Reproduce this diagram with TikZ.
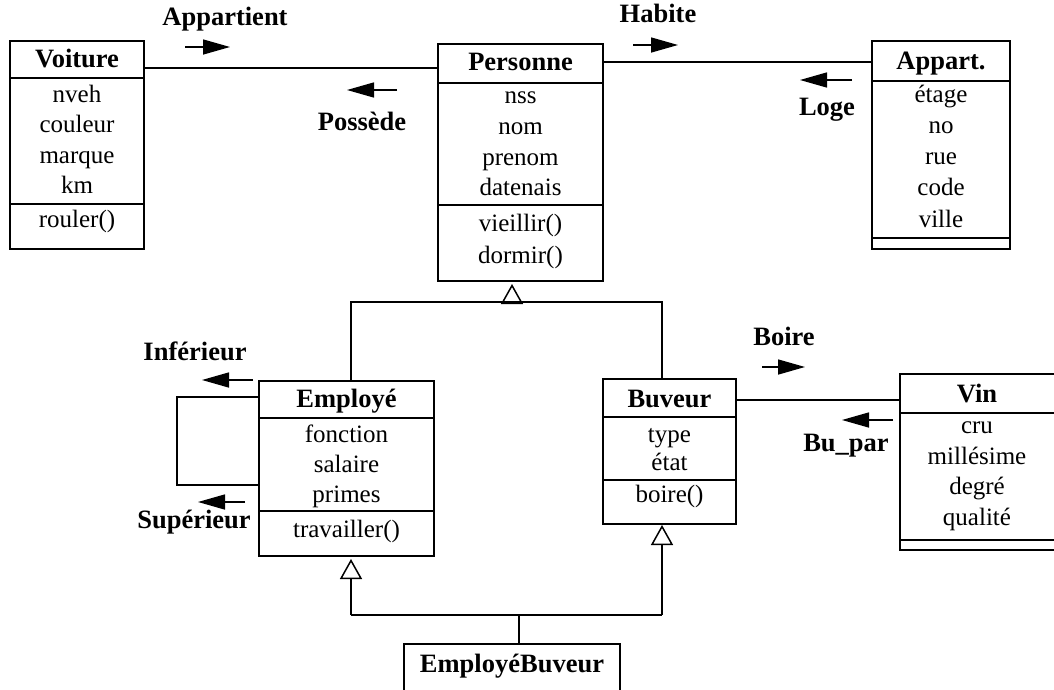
\documentclass[tikz,border=0pt]{standalone}
\usepackage{fontspec}
\setmainfont{Liberation Serif}
\usetikzlibrary{arrows.meta,calc}
\tikzset{
  cls/.style={draw, line width=2pt, inner sep=0pt, anchor=north west},
  sepl/.style={line width=1.5pt},
  ln/.style={line width=1.5pt},
  attr/.style={inner sep=0pt, font=\fontsize{25}{29}\selectfont, text height=16pt, text depth=5pt},
  hdr/.style={attr, font=\fontsize{26.5}{30}\selectfont\bfseries},
  lbl/.style={hdr},
  dirarr/.style={line width=1.5pt, -{Triangle[length=27pt,width=15pt]}},
  inh/.style={line width=1.5pt, -{Triangle[open,length=20pt,width=22pt,line width=1.5pt]}}
}
\newcommand\csep[2]{\draw[sepl] ([yshift=-#2pt]#1.north west) -- ([yshift=-#2pt]#1.north east);}
\begin{document}
\begin{tikzpicture}[x=1pt,y=-1pt]
\useasboundingbox (0,0) rectangle (1054,689);
\clip (0,0) rectangle (1054,689);

% class boxes
\node[cls, minimum width=134pt, minimum height=208pt] (voiture) at (9,40) {};
\node[cls, minimum width=165pt, minimum height=237pt] (personne) at (437,43) {};
\node[cls, minimum width=138pt, minimum height=208pt] (appart) at (871,40) {};
\node[cls, minimum width=175pt, minimum height=175pt] (employe) at (258,380) {};
\node[cls, minimum width=133pt, minimum height=145pt] (buveur) at (602,378) {};
\node[cls, minimum width=158pt, minimum height=176pt] (vin) at (899,373) {};
\node[cls, minimum width=216pt, minimum height=70pt] (eb) at (403,643) {};

% compartments
\csep{voiture}{38} \csep{voiture}{164}
\csep{personne}{40} \csep{personne}{162}
\csep{appart}{41} \csep{appart}{198}
\csep{employe}{38} \csep{employe}{131}
\csep{buveur}{39} \csep{buveur}{102}
\csep{vin}{40} \csep{vin}{167}

% Voiture texts
\node[hdr] (vt) at ($(voiture.north)+(0,22)$) {Voiture};
\node[attr] (v1) at ($(voiture.north)+(0,57)$) {nveh};
\node[attr] (v2) at ($(voiture.north)+(0,87)$) {couleur};
\node[attr] (v3) at ($(voiture.north)+(0,118)$) {marque};
\node[attr] (v4) at ($(voiture.north)+(0,148)$) {km};
\node[attr] (v5) at ($(voiture.north)+(0,182)$) {rouler()};

% Personne texts
\node[hdr] (pt) at ($(personne.north)+(0,22)$) {Personne};
\node[attr] (p1) at ($(personne.north)+(0,55)$) {nss};
\node[attr] (p2) at ($(personne.north)+(0,86)$) {nom};
\node[attr] (p3) at ($(personne.north)+(0,117)$) {prenom};
\node[attr] (p4) at ($(personne.north)+(0,147)$) {datenais};
\node[attr] (p5) at ($(personne.north)+(0,183)$) {vieillir()};
\node[attr] (p6) at ($(personne.north)+(0,215)$) {dormir()};

% Appart texts
\node[hdr] (at) at ($(appart.north)+(0,24)$) {Appart.};
\node[attr] (a1) at ($(appart.north)+(0,57)$) {étage};
\node[attr] (a2) at ($(appart.north)+(0,88)$) {no};
\node[attr] (a3) at ($(appart.north)+(0,119)$) {rue};
\node[attr] (a4) at ($(appart.north)+(0,150)$) {code};
\node[attr] (a5) at ($(appart.north)+(0,182)$) {ville};

% Employe texts
\node[hdr] (et) at ($(employe.north)+(0,22)$) {Employé};
\node[attr] (e1) at ($(employe.north)+(0,57)$) {fonction};
\node[attr] (e2) at ($(employe.north)+(0,87)$) {salaire};
\node[attr] (e3) at ($(employe.north)+(0,117)$) {primes};
\node[attr] (e4) at ($(employe.north)+(0,152)$) {travailler()};

% Buveur texts
\node[hdr] (bt) at ($(buveur.north)+(0,24)$) {Buveur};
\node[attr] (b1) at ($(buveur.north)+(0,59)$) {type};
\node[attr] (b2) at ($(buveur.north)+(0,87)$) {état};
\node[attr] (b3) at ($(buveur.north)+(0,119)$) {boire()};

% Vin texts
\node[hdr] (wt) at ($(vin.north)+(-2,24)$) {Vin};
\node[attr] (w1) at ($(vin.north)+(-2,55)$) {cru};
\node[attr] (w2) at ($(vin.north)+(-2,86)$) {millésime};
\node[attr] (w3) at ($(vin.north)+(-2,116)$) {degré};
\node[attr] (w4) at ($(vin.north)+(-2,147)$) {qualité};

% EmployeBuveur
\node[hdr] (ebt) at ($(eb.north)+(0,24)$) {EmployéBuveur};

% associations
\coordinate (y1) at (0,68);
\coordinate (y2) at (0,62);
\coordinate (y3) at (0,400);
\draw[ln] (voiture.east |- y1) -- (personne.west |- y1);
\draw[ln] (personne.east |- y2) -- (appart.west |- y2);
\draw[ln] (buveur.east |- y3) -- (vin.west |- y3);

% self association
\coordinate (sl) at (177,397);
\coordinate (sl2) at (177,485);
\draw[ln] (employe.west |- sl) -- (sl) -- (sl2) -- (employe.west |- sl2);

% labels
\node[lbl] (lapp) at (225,20) {Appartient};
\node[lbl] (lpos) at (362,125) {Possède};
\node[lbl] (lhab) at (658,17) {Habite};
\node[lbl] (llog) at (827,110) {Loge};
\node[lbl] (linf) at (195,355) {Inférieur};
\node[lbl] (lsup) at (194,523) {Supérieur};
\node[lbl] (lboi) at (784,340) {Boire};
\node[lbl] (lbu) at (846,446) {Bu\_par};

% direction arrows
\coordinate (d1a) at (185,47); \coordinate (d1b) at (230,47);
\coordinate (d2a) at (397,90); \coordinate (d2b) at (347,90);
\coordinate (d3a) at (633,45); \coordinate (d3b) at (678,45);
\coordinate (d4a) at (852,80); \coordinate (d4b) at (800,80);
\coordinate (d5a) at (253,380); \coordinate (d5b) at (202,380);
\coordinate (d6a) at (245,502); \coordinate (d6b) at (198,502);
\coordinate (d7a) at (762,367); \coordinate (d7b) at (805,367);
\coordinate (d8a) at (893,420); \coordinate (d8b) at (842,420);
\draw[dirarr] (d1a) -- (d1b);
\draw[dirarr] (d2a) -- (d2b);
\draw[dirarr] (d3a) -- (d3b);
\draw[dirarr] (d4a) -- (d4b);
\draw[dirarr] (d5a) -- (d5b);
\draw[dirarr] (d6a) -- (d6b);
\draw[dirarr] (d7a) -- (d7b);
\draw[dirarr] (d8a) -- (d8b);

% inheritance Personne
\coordinate (pbar) at (512,302);
\coordinate (bL) at (351,302);
\coordinate (bR) at (662,302);
\draw[inh] (pbar) -- ([yshift=-2pt]pbar |- personne.south);
\draw[ln] (bL |- employe.north) -- (bL) -- (bR) -- (bR |- buveur.north);

% inheritance EmployeBuveur
\coordinate (cL) at (351,615);
\coordinate (cR) at (662,615);
\coordinate (cM) at (519,615);
\draw[inh] (cL) -- ([yshift=-2pt]cL |- employe.south);
\draw[inh] (cR) -- (cR |- buveur.south);
\draw[ln] (cL) -- (cR);
\draw[ln] (cM) -- (cM |- eb.north);
\end{tikzpicture}
\end{document}
